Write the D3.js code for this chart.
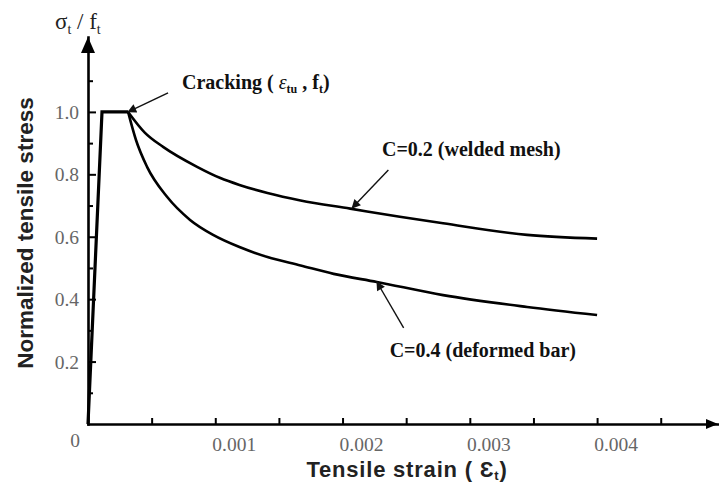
<!DOCTYPE html>
<html>
<head>
<meta charset="utf-8">
<script src="https://cdn.jsdelivr.net/npm/d3@7"></script>
<style>
  body { margin: 0; background: #fff; }
  svg { display: block; }
  .tick text { fill: #666; font-family: "Liberation Serif", serif; font-size: 19.5px; }
  .note { font-family: "Liberation Serif", serif; font-weight: bold; font-size: 20px; fill: #111; }
  .title { font-family: "Liberation Sans", "DejaVu Sans", sans-serif; font-weight: bold; fill: #222; }
</style>
</head>
<body>
<svg id="chart" width="719" height="490"></svg>
<script>
// values: strain (x) vs normalised tensile stress (y)
var riseStrain = [0, 0.00011, 0.000315];
var riseStress = [0, 1.0, 1.0];

var weldedStrain = [0.000315, 0.000448, 0.00059, 0.000857, 0.00104, 0.00119, 0.00141, 0.00167, 0.00206, 0.00245, 0.00279, 0.00345, 0.004];
var weldedStress = [1.0, 0.933, 0.888, 0.824, 0.788, 0.766, 0.740, 0.716, 0.690, 0.664, 0.643, 0.606, 0.594];

var deformedStrain = [0.000315, 0.000377, 0.000464, 0.000621, 0.000802, 0.000983, 0.00119, 0.00141, 0.00167, 0.00193, 0.00227, 0.00279, 0.00345, 0.004];
var deformedStress = [1.0, 0.910, 0.824, 0.728, 0.654, 0.606, 0.567, 0.535, 0.508, 0.481, 0.455, 0.413, 0.375, 0.349];

var xTicks = [0.0005, 0.001, 0.0015, 0.002, 0.0025, 0.003, 0.0035, 0.004, 0.0045];
var xLabels = [0.001, 0.002, 0.003, 0.004];
var yMinor = [0.1, 0.3, 0.5, 0.7, 0.9, 1.1];
var yLabels = [0.2, 0.4, 0.6, 0.8, 1.0];

// annotation arrows: [tail strain, tail stress, tip strain, tip stress]
var crackArrow = [0.000629, 1.061, 0.000315, 1.0];
var weldedArrow = [0.00236, 0.814, 0.002075, 0.692];
var deformedArrow = [0.00248, 0.308, 0.00227, 0.455];

var svg = d3.select("#chart");
var x = d3.scaleLinear().domain([0, 0.00495]).range([88, 718]);
var y = d3.scaleLinear().domain([0, 1.24]).range([424, 37]);

svg.append("defs").append("marker")
    .attr("id", "head")
    .attr("viewBox", "0 0 10 10")
    .attr("refX", 9).attr("refY", 5)
    .attr("markerWidth", 11).attr("markerHeight", 9)
    .attr("markerUnits", "userSpaceOnUse")
    .attr("orient", "auto")
  .append("path")
    .attr("d", "M0,0L10,5L0,10Z")
    .attr("fill", "#111");

// x axis: inward ticks, no labels from the axis itself
var gx = svg.append("g")
    .attr("transform", "translate(0," + y(0) + ")")
    .call(d3.axisBottom(x).tickValues(xTicks).tickSizeInner(-6).tickSizeOuter(0).tickFormat(""));
gx.selectAll("line").attr("stroke-width", 2);

// y axis: major ticks with labels, minor ticks without
var gy = svg.append("g")
    .attr("transform", "translate(" + x(0) + ",0)")
    .call(d3.axisLeft(y).tickValues(yLabels).tickSizeInner(-8).tickSizeOuter(0).tickPadding(9).tickFormat(d3.format(".1f")));
gy.selectAll("line").attr("stroke-width", 2);
gy.selectAll("text").attr("dy", "0.34em");

var gyMinor = svg.append("g")
    .attr("transform", "translate(" + x(0) + ",0)")
    .call(d3.axisLeft(y).tickValues(yMinor).tickSizeInner(-5).tickSizeOuter(0).tickFormat(""));
gyMinor.select(".domain").remove();
gyMinor.selectAll("line").attr("stroke-width", 2);

svg.selectAll(".domain").attr("stroke", "#000").attr("stroke-width", 2.6).attr("stroke-linecap", "square");

// arrow heads on both axes
svg.append("path")
    .attr("d", "M" + x(0) + "," + y.range()[1] + "l-7,16h14z")
    .attr("fill", "#000");
svg.append("path")
    .attr("d", "M" + x.range()[1] + "," + y(0) + "l-12,-5v10z")
    .attr("fill", "#000");

// x tick labels sit just right of their ticks in the source
svg.append("g").selectAll("text")
    .data(xLabels)
    .join("text")
    .attr("x", function (d) { return x(d) + 19; })
    .attr("y", y(0) + 27)
    .attr("text-anchor", "middle")
    .style("font-family", "Liberation Serif, serif")
    .style("font-size", "19.5px")
    .style("fill", "#666")
    .text(function (d) { return d3.format(".3f")(d); });

svg.append("text")
    .attr("x", x(0) - 13)
    .attr("y", y(0) + 23)
    .attr("text-anchor", "middle")
    .style("font-family", "Liberation Serif, serif")
    .style("font-size", "19.5px")
    .style("fill", "#666")
    .text("0");

// curves
var line = d3.line()
    .x(function (d) { return x(d[0]); })
    .y(function (d) { return y(d[1]); });
var smooth = d3.line()
    .x(function (d) { return x(d[0]); })
    .y(function (d) { return y(d[1]); })
    .curve(d3.curveMonotoneX);

svg.append("path")
    .attr("d", line(d3.zip(riseStrain, riseStress)))
    .attr("fill", "none").attr("stroke", "#000").attr("stroke-width", 3.2)
    .attr("stroke-linejoin", "miter");
svg.append("path")
    .attr("d", smooth(d3.zip(weldedStrain, weldedStress)))
    .attr("fill", "none").attr("stroke", "#000").attr("stroke-width", 2.6);
svg.append("path")
    .attr("d", smooth(d3.zip(deformedStrain, deformedStress)))
    .attr("fill", "none").attr("stroke", "#000").attr("stroke-width", 2.6);

// annotation arrows
[crackArrow, weldedArrow, deformedArrow].forEach(function (a) {
    svg.append("line")
        .attr("x1", x(a[0])).attr("y1", y(a[1]))
        .attr("x2", x(a[2])).attr("y2", y(a[3]))
        .attr("stroke", "#111").attr("stroke-width", 1.4)
        .attr("marker-end", "url(#head)");
});

// annotation texts
var crack = svg.append("text").attr("class", "note")
    .attr("x", x(0.000739)).attr("y", y(1.074));
crack.append("tspan").text("Cracking ( ");
crack.append("tspan").style("font-style", "italic").style("font-weight", "normal").text("ε");
crack.append("tspan").attr("dy", 4).style("font-size", "12px").text("tu");
crack.append("tspan").attr("dy", -4).text(" , f");
crack.append("tspan").attr("dy", 4).style("font-size", "12px").text("t");
crack.append("tspan").attr("dy", -4).text(")");

svg.append("text").attr("class", "note")
    .attr("x", x(0.00231)).attr("y", y(0.859))
    .text("C=0.2 (welded mesh)");
svg.append("text").attr("class", "note")
    .attr("x", x(0.00237)).attr("y", y(0.215))
    .text("C=0.4 (deformed bar)");

// axis titles
var yUnit = svg.append("text")
    .attr("x", 55).attr("y", 29)
    .style("font-family", "Liberation Serif, serif")
    .style("font-size", "23px")
    .style("fill", "#222");
yUnit.append("tspan").text("σ");
yUnit.append("tspan").attr("dy", 5).style("font-size", "14px").text("t");
yUnit.append("tspan").attr("dy", -5).text(" / f");
yUnit.append("tspan").attr("dy", 5).style("font-size", "14px").text("t");

svg.append("text").attr("class", "title")
    .attr("transform", "translate(33,233) rotate(-90)")
    .attr("text-anchor", "middle")
    .style("font-size", "22.5px")
    .text("Normalized tensile stress");

var xTitle = svg.append("text").attr("class", "title")
    .attr("x", 407).attr("y", 477)
    .attr("text-anchor", "middle")
    .style("font-size", "22px")
    .style("letter-spacing", "0.8px");
xTitle.append("tspan").text("Tensile strain ( Ɛ");
xTitle.append("tspan").attr("dy", 3).style("font-size", "13px").text("t");
xTitle.append("tspan").attr("dy", -3).text(")");
</script>
</body>
</html>
